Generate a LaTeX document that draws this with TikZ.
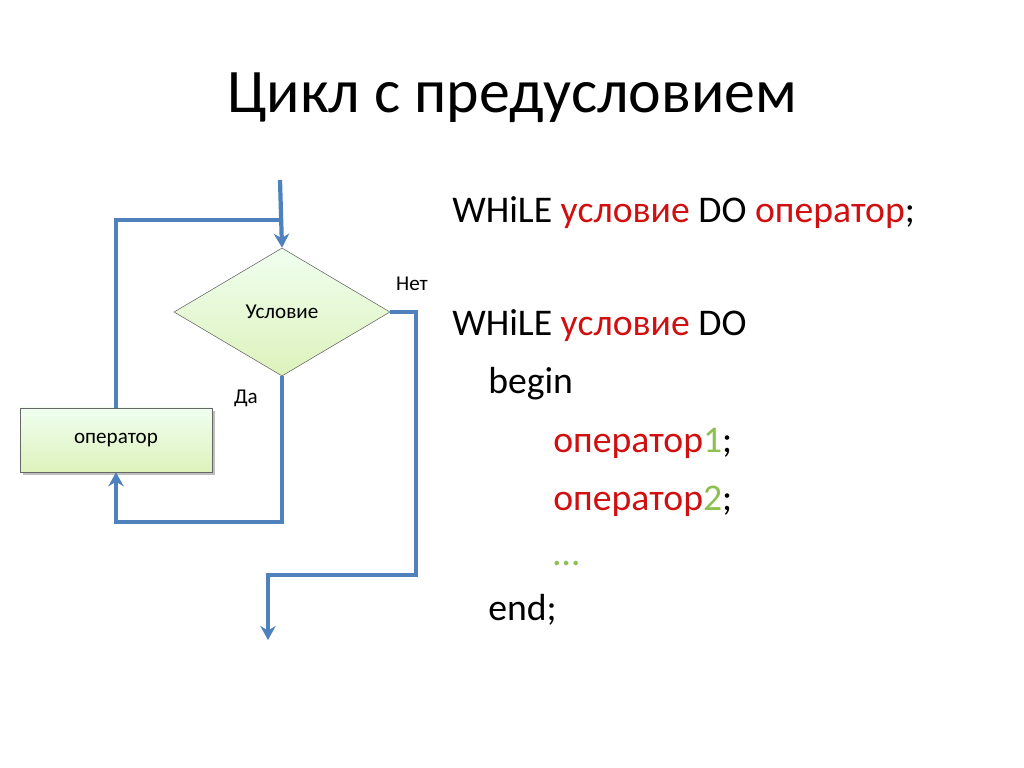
\documentclass[tikz,border=0pt]{standalone}
\usepackage{fontspec}
\setmainfont{Carlito}
\usetikzlibrary{positioning, shapes.geometric, arrows.meta, shadows}
\definecolor{flowblue}{HTML}{4F81BD}
\definecolor{codered}{HTML}{D01010}
\definecolor{codegreen}{HTML}{8CC152}
\definecolor{boxgreen}{HTML}{DDF2BC}

\begin{document}
\begin{tikzpicture}[
		x=0.025cm, y=-0.025cm,
		block/.style={draw=black!60, thin, top color=green!6!white, bottom color=boxgreen, font=\fontsize{15}{17}\selectfont},
		line/.style={draw=flowblue, line width=3pt},
		arrow/.style={line, -{Stealth[length=10pt,width=11pt]}},
		label/.style={font=\fontsize{15}{17}\selectfont},
		code/.style={anchor=base west, inner sep=0pt, font=\fontsize{26.8}{30}\selectfont}
		]
		\useasboundingbox (0,0) rectangle (1024,768);
		
		% Title
		\node[font=\fontsize{44}{50}\selectfont] (title) at (512,98) {Цикл с предусловием};
		
		% Flowchart blocks
		\node[block, diamond, inner sep=0pt, minimum width=5.4cm, minimum height=3.2cm, aspect=1.69] (cond) at (282,312) {Условие};
		\node[block, rectangle, drop shadow, minimum width=4.8cm, minimum height=1.6cm] (op) at (116,440) {оператор};
		
		\coordinate (start) at (280,180);
		\coordinate (join) at (282,220);
		\coordinate (exit) at (268,640);
		
		% Connections
		\draw[arrow] (start) -- (cond.north);
		\draw[line] (op.north) -- (116,220) -- (join);
		\draw[arrow] (cond.south) -- (282,522) -- (116,522) -- (op.south);
		\draw[arrow] (cond.east) -- (416,312) -- (416,575) -- (268,575) -- (exit);
		
		\node[label] (yes) at (246,398) {Да};
		\node[label] (no) at (412,284) {Нет};
		
		% Code
		\node[code] (l1) at (452,222) {WHiLE \textcolor{codered}{условие} DO \textcolor{codered}{оператор};};
		\node[code] (l2) at (452,335) {WHiLE \textcolor{codered}{условие} DO};
		\node[code] (l3) at (488,393) {begin};
		\node[code] (l4) at (553,452) {\textcolor{codered}{оператор}\textcolor{codegreen}{1};};
		\node[code] (l5) at (553,510) {\textcolor{codered}{оператор}\textcolor{codegreen}{2};};
		\node[code] (l6) at (553,565) {\textcolor{codegreen}{…}};
		\node[code] (l7) at (488,620) {end;};
		
	\end{tikzpicture}
\end{document}
